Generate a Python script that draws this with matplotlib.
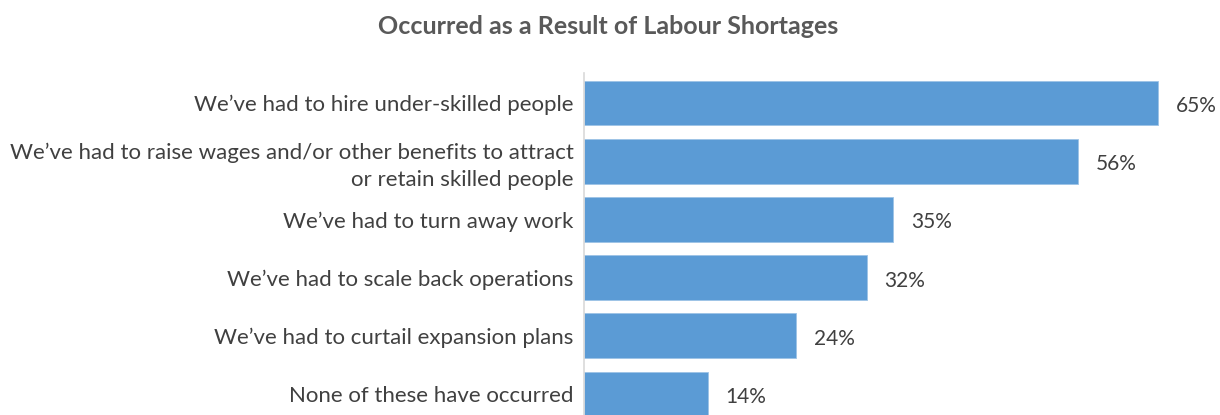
import matplotlib
matplotlib.use("Agg")
import matplotlib.pyplot as plt

plt.rcParams['font.family'] = ['Lato', 'DejaVu Sans']

labels = [
    "We\u2019ve had to hire under-skilled people",
    "We\u2019ve had to raise wages and/or other benefits to attract\nor retain skilled people",
    "We\u2019ve had to turn away work",
    "We\u2019ve had to scale back operations",
    "We\u2019ve had to curtail expansion plans",
    "None of these have occurred",
]
values = [65, 56, 35, 32, 24, 14]

bar_color = "#5B9BD5"
text_color = "#404040"

fig = plt.figure(figsize=(12.2, 4.15), dpi=100)
ax = fig.add_axes([584 / 1220, 0, 618 / 1220, 342 / 415])

y_pos = list(range(len(values)))
ax.barh(y_pos, values, height=0.77, color=bar_color, edgecolor="#9DC3E6", linewidth=0.6)
ax.set_xlim(0, 70)
ax.set_ylim(len(values) - 1 + 0.36, -0.515)

for y, v in zip(y_pos, values):
    ax.text(v + 2.0, y + 0.05, f"{v}%", va="center", ha="left",
            fontsize=15, color=text_color)

ax.set_yticks(y_pos)
ax.set_yticklabels(labels, fontsize=16, color=text_color, linespacing=1.4)
ax.tick_params(axis="y", length=0, pad=7.5)
ax.set_xticks([])

for side in ["top", "right", "bottom"]:
    ax.spines[side].set_visible(False)
ax.spines["left"].set_color("#D9D9D9")
ax.spines["left"].set_linewidth(1.2)

fig.text(608 / 1220, 1 - 27 / 415, "Occurred as a Result of Labour Shortages",
         ha="center", va="center", fontsize=18, fontweight="bold", color="#595959")

fig.savefig("out.png", dpi=100)
